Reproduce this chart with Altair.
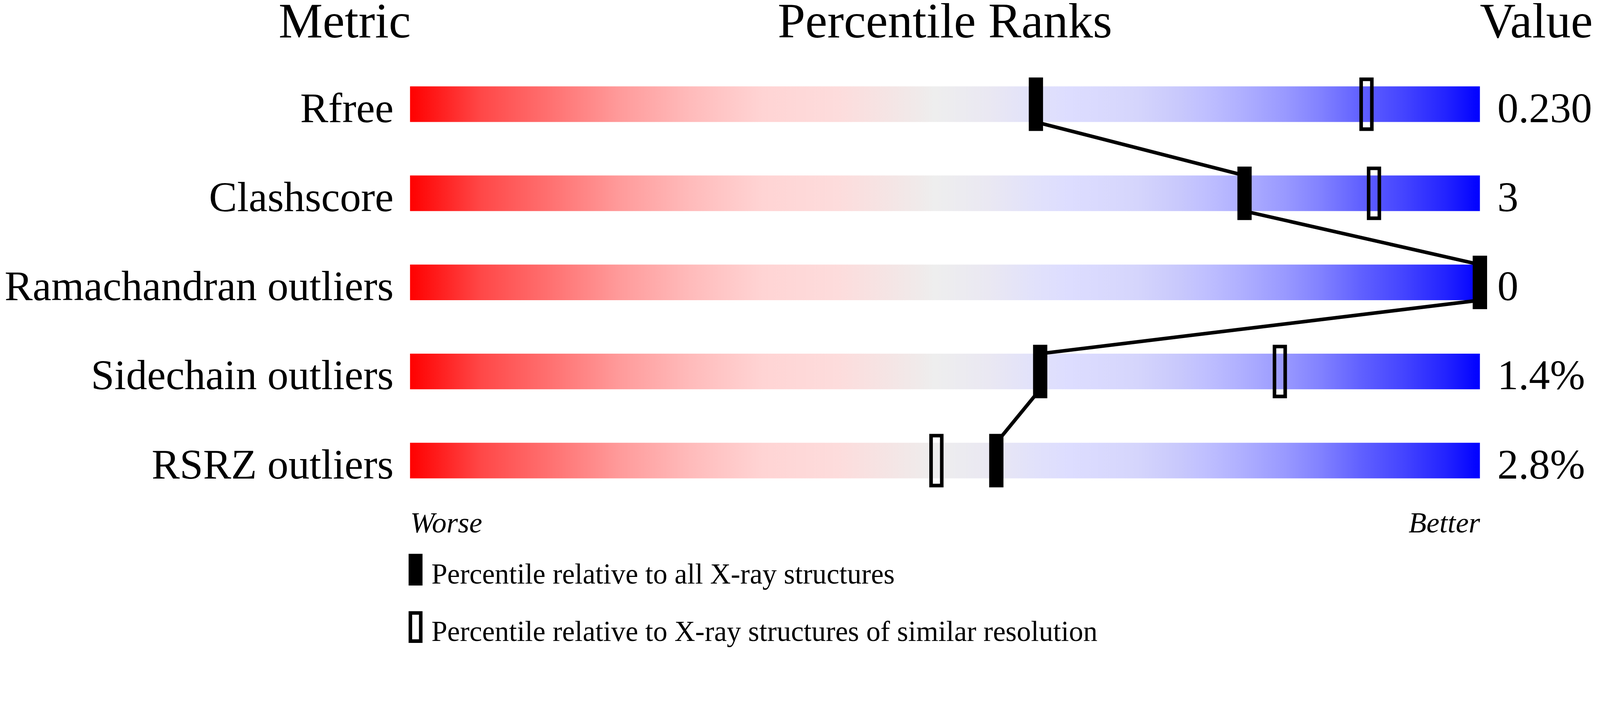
import altair as alt
import pandas as pd

# ---------------- data ----------------
METRICS = ["Rfree", "Clashscore", "Ramachandran outliers", "Sidechain outliers", "RSRZ outliers"]
VALUES = ["0.230", "3", "0", "1.4%", "2.8%"]
PCT_ALL = [58.5, 78.0, 100.0, 58.9, 54.8]        # percentile vs all X-ray structures (filled)
PCT_SIMILAR = [89.4, 90.1, 100.0, 81.3, 49.2]    # percentile vs similar resolution (hollow)
HEADERS = ["Metric", "Percentile Ranks", "Value"]
HEADER_AT = [0, 50, 100]
SCALE_ENDS = ["Worse", "Better"]
LEGEND_LABELS = [
    "Percentile relative to all X-ray structures",
    "Percentile relative to X-ray structures of similar resolution",
]

# ---------------- style ----------------
FONT = "Liberation Serif"
ROW_PX = 250
BAR_PX = 100
PLOT_W = 3000
STOPS = [
    (0.00, "#FF0000"), (0.067, "#FF4848"), (0.13, "#FF7070"), (0.195, "#FF9A9A"),
    (0.26, "#FFBABA"), (0.33, "#FFD4D4"), (0.40, "#FDDCDC"), (0.476, "#F0EAEA"),
    (0.49, "#EEEEEE"), (0.54, "#EAE8F2"), (0.58, "#E2E2FA"), (0.615, "#DDDDFF"),
    (0.68, "#D5D5FC"), (0.72, "#C8C8FC"), (0.742, "#C0C0FF"), (0.776, "#B0B0FF"),
    (0.816, "#9A9AFF"), (0.849, "#8383FF"), (0.889, "#6060FF"), (0.929, "#4444FF"),
    (0.969, "#2222FF"), (1.00, "#0000FF"),
]
GRADIENT = alt.Gradient(
    gradient="linear",
    stops=[alt.GradientStop(color=c, offset=o) for o, c in STOPS],
    x1=0, x2=1, y1=0, y2=0,
)

n = len(METRICS)
half = 0.5 * BAR_PX / ROW_PX

rows = pd.DataFrame({"metric": METRICS, "row": list(range(n)), "value": VALUES})

markers = pd.DataFrame({
    "row": list(range(n)) + list(range(n)),
    "pct": PCT_SIMILAR + PCT_ALL,
    "kind": [LEGEND_LABELS[1]] * n + [LEGEND_LABELS[0]] * n,
})

line_pts = []
for i, p in enumerate(PCT_ALL):
    line_pts.append({"pct": p, "y": i - half, "k": 2 * i})
    line_pts.append({"pct": p, "y": i + half, "k": 2 * i + 1})
line_df = pd.DataFrame(line_pts)

headers = pd.DataFrame({"text": HEADERS, "at": HEADER_AT})

XS = alt.Scale(domain=[0, 100], nice=False, zero=False, padding=0)
YS = alt.Scale(domain=[-0.5, n - 0.5], reverse=True, nice=False, zero=False, padding=0)
AX = alt.Axis(
    values=[0, 100],
    labelExpr=f"datum.value == 0 ? '{SCALE_ENDS[0]}' : '{SCALE_ENDS[1]}'",
    labelFlush=True, labelOverlap=False, labelBound=False, labelLimit=0,
    domain=False, ticks=False, tickSize=0, grid=False,
    labelFont=FONT, labelFontStyle="italic", labelFontSize=82, labelColor="black",
    labelPadding=76, labelBaseline="alphabetic", title=None,
)
Y = alt.Y("row:Q", scale=YS, axis=None)

track = alt.Chart(rows).transform_calculate(lo="0", hi="100").mark_bar(
    orient="horizontal", height=BAR_PX, color=GRADIENT, strokeWidth=0
).encode(
    x=alt.X("lo:Q", scale=XS, axis=AX),
    x2="hi:Q",
    y=Y,
)

connector = alt.Chart(line_df).mark_line(
    color="black", strokeWidth=10, strokeJoin="miter"
).encode(
    x=alt.X("pct:Q", scale=XS, axis=AX),
    y=alt.Y("y:Q", scale=YS, axis=None),
    order=alt.Order("k:Q"),
)

SYMBOL = "M-0.367,-1.39L0.367,-1.39L0.367,0.61L-0.367,0.61Z"
LEG = alt.Legend(
    orient="none", legendX=-29, legendY=1402, direction="vertical", title=None,
    symbolType=SYMBOL, symbolSize=79 * 79, symbolStrokeColor="black",
    symbolStrokeWidth=10, symbolOpacity=1,
    labelFont=FONT, labelFontSize=80, labelColor="black", labelLimit=0,
    labelOffset=0, labelBaseline="middle", rowPadding=41, padding=0,
)

ticks = alt.Chart(markers).mark_tick(
    orient="vertical", thickness=30, size=140, stroke="black", strokeWidth=10, opacity=1
).encode(
    x=alt.X("pct:Q", scale=XS, axis=AX),
    y=Y,
    fill=alt.Fill("kind:N", scale=alt.Scale(domain=LEGEND_LABELS, range=["black", "transparent"]), legend=LEG),
)

labels = alt.Chart(rows).transform_calculate(lo="0").mark_text(
    align="right", baseline="alphabetic", dx=-46, dy=BAR_PX / 2,
    font=FONT, fontSize=118, color="black",
).encode(
    x=alt.X("lo:Q", scale=XS, axis=AX),
    y=Y,
    text="metric:N",
)

values = alt.Chart(rows).transform_calculate(hi="100").mark_text(
    align="left", baseline="alphabetic", dx=49, dy=BAR_PX / 2,
    font=FONT, fontSize=118, color="black",
).encode(
    x=alt.X("hi:Q", scale=XS, axis=AX),
    y=Y,
    text="value:N",
)

header_layers = []
for txt, align, dx in zip(HEADERS, ["right", "center", "left"], [2, 0, 0]):
    header_layers.append(
        alt.Chart(headers).transform_filter(alt.datum.text == txt).mark_text(
            align=align, baseline="alphabetic", dx=dx, dy=-62,
            font=FONT, fontSize=139, color="black",
        ).encode(
            x=alt.X("at:Q", scale=XS, axis=AX),
            y=alt.value(0),
            text="text:N",
        )
    )

chart = alt.layer(track, connector, ticks, labels, values, *header_layers).properties(
    width=PLOT_W,
    height=ROW_PX * n,
    autosize=alt.AutoSizeParams(type="none"),
    padding={"left": 1141, "right": 328, "top": 80, "bottom": 320},
    background="white",
).configure_view(stroke=None)

chart.save("out.html", embed_options={"renderer": "svg", "actions": False})
